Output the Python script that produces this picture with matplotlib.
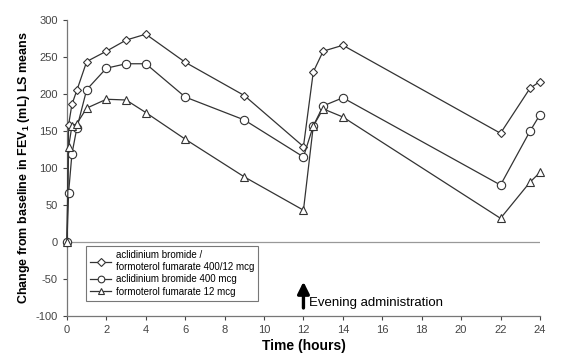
import matplotlib.pyplot as plt

# time points (hours) and FEV1 change from baseline (mL)
hours = [0, 0.08, 0.25, 0.5, 1, 2, 3, 4, 6, 9, 12, 12.5, 13, 14, 22, 23.5, 24]
combo = [0, 158, 186, 205, 244, 258, 273, 281, 243, 198, 129, 230, 258, 266, 147, 208, 217]
aclidinium = [0, 66, 119, 154, 206, 235, 241, 241, 196, 165, 115, 157, 184, 195, 77, 150, 172]
formoterol = [0, 128, 157, 160, 181, 193, 192, 175, 139, 88, 43, 157, 180, 169, 32, 81, 94]

labels = ["aclidinium bromide /\nformoterol fumarate 400/12 mcg",
          "aclidinium bromide 400 mcg",
          "formoterol fumarate 12 mcg"]

plt.rcParams["font.family"] = ["Liberation Sans", "DejaVu Sans"]
plt.rcParams["axes.unicode_minus"] = False
plt.rcParams["mathtext.fontset"] = "custom"
plt.rcParams["mathtext.bf"] = "Liberation Sans:bold"
plt.rcParams["mathtext.rm"] = "Liberation Sans"

fig = plt.figure(figsize=(5.75, 3.53), dpi=100)
ax = fig.add_axes([0.1165, 0.105, 0.8225, 0.838])

line_col = "#333333"
kw = dict(color=line_col, lw=0.9, mfc="white", mec=line_col, mew=0.8, clip_on=False, zorder=3)
ax.plot(hours, combo, marker="D", ms=4.5, label=labels[0], **kw)
ax.plot(hours, aclidinium, marker="o", ms=6, label=labels[1], **kw)
ax.plot(hours, formoterol, marker="^", ms=6, label=labels[2], **kw)

ax.axhline(0, color="#999999", lw=0.9, zorder=1)

ax.set_xlim(0, 24)
ax.set_ylim(-100, 300)
ax.set_xticks(range(0, 25, 2))
ax.set_yticks(range(-100, 301, 50))
ax.tick_params(labelsize=8, colors="#444444", length=3, width=0.8)
for s in ["top", "right"]:
    ax.spines[s].set_visible(False)
for s in ["left", "bottom"]:
    ax.spines[s].set_color("#777777")
    ax.spines[s].set_linewidth(0.9)

ax.set_xlabel("Time (hours)", fontsize=10, fontweight="bold", labelpad=3)
ax.set_ylabel("Change from baseline in FEV$_\\mathbf{1}$ (mL) LS means",
              fontsize=9, fontweight="bold", labelpad=3)

ax.annotate("", xy=(12, -50), xytext=(12, -93),
            arrowprops=dict(arrowstyle="-|>,head_width=0.35,head_length=0.7",
                            color="black", lw=2.4))
ax.text(12.3, -82, "Evening administration", fontsize=9.5, va="center", ha="left")

leg = ax.legend(loc="lower left", bbox_to_anchor=(0.03, 0.035), fontsize=7,
                frameon=True, fancybox=False, handlelength=2.2, borderpad=0.4,
                labelspacing=0.25, handletextpad=0.5, markerscale=0.8)
leg.get_frame().set_edgecolor("#555555")
leg.get_frame().set_linewidth(0.8)

fig.savefig("out.png", dpi=100)
